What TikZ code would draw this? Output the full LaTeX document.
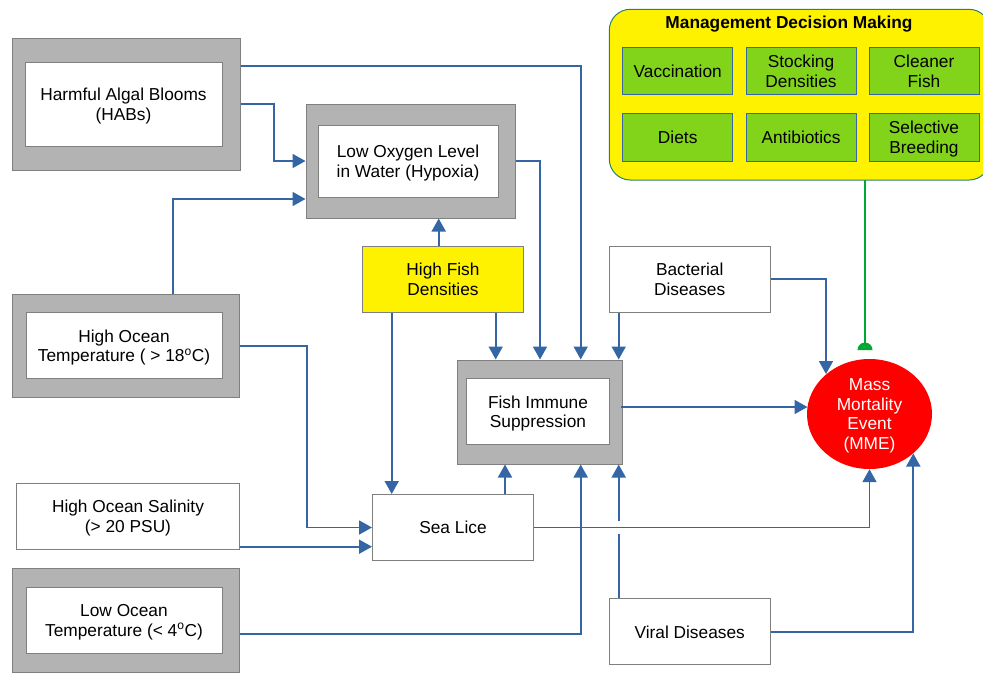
\documentclass[tikz,border=0pt]{standalone}
\usepackage{fontspec}
\setmainfont{Liberation Sans}
\usetikzlibrary{calc,arrows.meta,shapes.geometric}
\definecolor{flowblue}{HTML}{3465A4}
\definecolor{framegray}{HTML}{7F7F7F}
\definecolor{shadegray}{HTML}{B3B3B3}
\definecolor{mgmtlime}{HTML}{81D41A}
\definecolor{mgmtedge}{HTML}{2A8070}
\definecolor{ctrlgreen}{HTML}{00A933}

\begin{document}
\begin{tikzpicture}[x=1pt, y=-1pt,
	font=\fontsize{17.3}{19.7}\selectfont,
	flow/.style={draw=flowblue, line width=1.8pt, -{Triangle[length=13pt,width=14pt]}},
	wire/.style={draw=flowblue, line width=1.8pt},
	frame/.style={draw=framegray, fill=shadegray, line width=1pt, inner sep=0pt},
	inbox/.style={draw=framegray, fill=white, line width=1pt, inner sep=0pt, align=center, text depth=0pt},
	factor/.style={draw=framegray, fill=white, line width=1pt, inner sep=0pt, align=center, text depth=0pt, minimum width=161pt, minimum height=66pt},
	option/.style={draw=flowblue, fill=mgmtlime, line width=0.8pt, inner sep=0pt, align=center, text depth=0pt, minimum width=110pt, minimum height=47.5pt}]
			%%%%% START %%%%%
			
			\useasboundingbox (0,0) rectangle (983,673);
			\clip (0,0) rectangle (983,673);
			
			% drivers on the left
			\node[frame, minimum width=228pt, minimum height=132pt] (habs) at (126,104) {};
			\node[inbox, minimum width=197pt, minimum height=84pt] (habsin) at (123.5,104) {Harmful Algal Blooms\\(HABs)};
			
			\node[frame, minimum width=227pt, minimum height=103pt] (hot) at (126,345.7) {};
			\node[inbox, minimum width=196pt, minimum height=66pt] (hotin) at (124,345.7) {High Ocean\\Temperature ( > 18\textsuperscript{o}C)};
			
			\node[factor, minimum width=223pt] (sal) at (128,516) {High Ocean Salinity\\(> 20 PSU)};
			
			\node[frame, minimum width=227pt, minimum height=104pt] (lot) at (126,620) {};
			\node[inbox, minimum width=196pt, minimum height=66pt] (lotin) at (124,620.3) {Low Ocean\\Temperature (< 4\textsuperscript{o}C)};
			
			% middle column
			\node[frame, minimum width=209pt, minimum height=114pt] (oxy) at (410.5,161) {};
			\node[inbox, minimum width=180pt, minimum height=72pt] (oxyin) at (408,161) {Low Oxygen Level\\in Water (Hypoxia)};
			
			\node[factor, fill=yellow] (hfd) at (443,279) {High Fish\\Densities};
			
			\node[frame, minimum width=165pt, minimum height=104pt] (fish) at (540,412) {};
			\node[inbox, minimum width=142.6pt, minimum height=66.3pt] (fishin) at (538,411.8) {Fish Immune\\Suppression};
			
			\node[factor] (lice) at (453,527.5) {Sea Lice};
			
			% diseases
			\node[factor] (bact) at (689.7,279.2) {Bacterial\\Diseases};
			\node[factor] (viral) at (689.7,631.8) {Viral Diseases};
			
			% outcome
			\node[ellipse, fill=red, text=white, align=center, inner sep=0pt, text depth=0pt, minimum width=125pt, minimum height=110pt] (mme) at (869.5,414) {Mass\\Mortality\\Event\\(MME)};
			
			% management panel
			\draw[draw=mgmtedge, fill=yellow, line width=1pt, rounded corners=21pt] (609.3,9.3) rectangle (990,180);
			\coordinate (mgmt) at (865,180);
			\node[font=\fontsize{17.3}{19.7}\selectfont\bfseries] (mgmttitle) at (789,24) {Management Decision Making};
			\node[option] (vacc) at (677.7,71) {Vaccination};
			\node[option] (stock) at (801,71) {Stocking\\Densities};
			\node[option] (clean) at (924,71) {Cleaner\\Fish};
			\node[option] (diet) at (677.7,137.2) {Diets};
			\node[option] (anti) at (801,137.2) {Antibiotics};
			\node[option] (breed) at (924,137.2) {Selective\\Breeding};
			
			% connectors
			\draw[flow] (habs.east) -- ++(33.3,0) |- (oxy.west);
			\draw[flow] ($(habs.east)+(0,-38)$) -| ($(fish.north)+(40.7,0)$);
			\draw[flow] ($(hot.north)+(47.3,0)$) |- ($(oxy.west)+(0,38)$);
			\draw[flow] (hot.east) -- ++(66.7,0) |- (lice.west);
			\draw[flow] ($(sal.east)+(0,30.7)$) -- ($(lice.west)+(0,19.2)$);
			\draw[flow] ($(lot.east)+(0,14.3)$) -| ($(fish.south)+(40.7,0)$);
			
			\draw[flow] ($(hfd.north)+(-4.3,0)$) coordinate (hfdup) -- (hfdup |- oxy.south);
			\draw[flow] ($(hfd.south)+(-51.3,0)$) coordinate (hfdleft) -- (hfdleft |- lice.north);
			\draw[flow] ($(hfd.south)+(52.7,0)$) coordinate (hfdright) -- (hfdright |- fish.north);
			\draw[flow] (oxy.east) -| (fish.north);
			\draw[flow] ($(lice.north)+(52,0)$) coordinate (liceup) -- (liceup |- fish.south);
			
			\draw[flow] ($(bact.south)+(-71,0)$) coordinate (bactdown) -- (bactdown |- fish.north);
			\draw[flow] (bact.east) -| ($(mme.center)+(-43.5,-40)$);
			\draw[flow] ($(fish.east)+(-2,-5)$) coordinate (fishout) -- ($(mme.center)+(-62,-7)$);
			\draw[flow] (lice.east) -| (mme.south);
			\draw[wire] ($(viral.north)+(-71,0)$) coordinate (viralup) -- ($(viralup |- lice.east)+(0,6)$);
			\draw[flow] ($(viralup |- lice.east)+(0,-7)$) -- (viralup |- fish.south);
			\draw[flow] (viral.east) -| ($(mme.center)+(43.8,39.5)$);
			
			\draw[draw=ctrlgreen, line width=1.8pt] (mgmt) -- ++(0,170) coordinate (cap);
			\fill[ctrlgreen] ($(cap)+(-7.5,0)$) arc (180:360:7.5) -- cycle;
			
			%%%%% END %%%%%
		\end{tikzpicture}
\end{document}
